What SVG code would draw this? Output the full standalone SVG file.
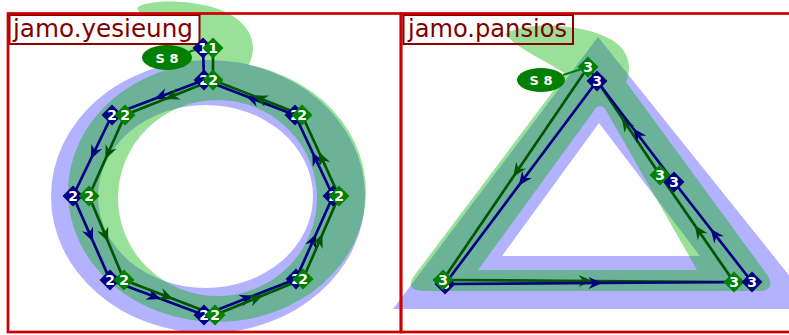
<svg xmlns="http://www.w3.org/2000/svg" xmlns:xlink="http://www.w3.org/1999/xlink" width="789" height="335" viewBox="0 0 789 335">
<style>
.bl{fill:#0000ff;fill-opacity:0.3}
.gr{fill:#00b200;fill-opacity:0.4}
.frame{fill:none;stroke:#cc0000;stroke-width:2.7}
.lbox{stroke:#8b0000;stroke-width:2}
.ltxt{font-family:"DejaVu Sans","Liberation Sans",sans-serif;font-size:24px;fill:#800000}
.cb{fill:none;stroke:#000080;stroke-width:2.7}
.cg{fill:none;stroke:#005500;stroke-width:2.7}
.nb{fill:#000080}
.ng{fill:#008000}
.nt{font-family:"DejaVu Sans","Liberation Sans",sans-serif;font-size:14px;font-weight:bold;fill:#ffffff;text-anchor:middle}
.st{font-family:"DejaVu Sans","Liberation Sans",sans-serif;font-size:13px;font-weight:bold;fill:#ffffff;text-anchor:middle}
.sl{stroke:#008000;stroke-width:2}
</style>
<defs>
<path id="dm" d="M0,-10.5 L10.5,0 L0,10.5 L-10.5,0 Z"/>
<marker id="ab" markerUnits="userSpaceOnUse" markerWidth="18" markerHeight="14" viewBox="-13 -7 18 14" refX="0" refY="0" orient="auto"><path d="M4,0 L-10,-6 L-5.5,0 L-10,6 Z" fill="#000080"/></marker>
<marker id="ag" markerUnits="userSpaceOnUse" markerWidth="18" markerHeight="14" viewBox="-13 -7 18 14" refX="0" refY="0" orient="auto"><path d="M4,0 L-10,-6 L-5.5,0 L-10,6 Z" fill="#005500"/></marker>
</defs>

<!-- left panel shapes -->
<path class="bl" fill-rule="evenodd" d="M51,196.5 A157,136.5 0 1 1 365,196.5 A157,136.5 0 1 1 51,196.5 Z M98,196.5 A107.5,91.5 0 1 1 313,196.5 A107.5,91.5 0 1 1 98,196.5 Z"/>
<path class="gr" fill-rule="nonzero" d="M68,192 A149,130 0 1 1 366,192 A149,130 0 1 1 68,192 Z M118,198 A99.5,98 0 1 0 317,198 A99.5,98 0 1 0 118,198 Z M137,8 C145,0 185,-1 215,8 C240,16 254,32 253,50 C252,62 246,70 240,76 L195,76 C185,60 150,30 137,8 Z"/>
<g id="label-yesieung">
<rect class="lbox" x="9.5" y="15" width="190" height="29" fill="#ffffff"/>
<text class="ltxt" x="13" y="37" textLength="180" lengthAdjust="spacingAndGlyphs">jamo.yesieung</text>
</g>

<!-- right panel shapes -->
<path class="bl" fill-rule="evenodd" d="M598,37 L816,309 L393,309 Z M599,123 L502,256 L700,256 Z"/>
<path class="gr" fill-rule="nonzero" d="M505,34 C528,20 585,24 612,40 C630,51 632,68 626,82 L768,276 Q776,291 758,291 L424,291 Q404,290 414,276 L566,74 C545,60 518,50 505,34 Z M600,106 Q596,106 593,112 L478,270 L697,270 L607,112 Q604,106 600,106 Z"/>
<g id="label-pansios">
<rect class="lbox" x="403.5" y="15" width="169.5" height="29" fill="none"/>
<text class="ltxt" x="408" y="37" textLength="159" lengthAdjust="spacingAndGlyphs">jamo.pansios</text>
</g>

<!-- frames -->
<rect class="frame" x="8" y="13.5" width="393" height="318.5"/>
<rect class="frame" x="401" y="13.5" width="400" height="318.5"/>

<!-- connectors -->
<g id="connectors">
<line class="cb" x1="203" y1="48" x2="204" y2="80"/>
<line class="cg" x1="213" y1="48" x2="213" y2="80"/>
<line class="sl" x1="189" y1="52" x2="196" y2="49.5"/>
<path class="cb" marker-mid="url(#ab)" d="M204,80 L158,97.5 L112,115"/>
<path class="cb" marker-mid="url(#ab)" d="M112,115 L92.5,155.5 L73,196"/>
<path class="cb" marker-mid="url(#ab)" d="M73,196 L91.5,238 L110,280"/>
<path class="cb" marker-mid="url(#ab)" d="M110,280 L157,297.5 L204,315"/>
<path class="cb" marker-mid="url(#ab)" d="M204,315 L250,297 L296,279"/>
<path class="cb" marker-mid="url(#ab)" d="M296,279 L314.5,237.5 L333,196"/>
<path class="cb" marker-mid="url(#ab)" d="M333,196 L314,155.5 L295,115"/>
<path class="cb" marker-mid="url(#ab)" d="M295,115 L249.5,97.5 L204,80"/>
<path class="cg" marker-mid="url(#ag)" d="M213,80 L169,97.5 L125,115"/>
<path class="cg" marker-mid="url(#ag)" d="M125,115 L107,155.5 L89,196"/>
<path class="cg" marker-mid="url(#ag)" d="M89,196 L106.5,238 L124,280"/>
<path class="cg" marker-mid="url(#ag)" d="M124,280 L169.5,297.5 L215,315"/>
<path class="cg" marker-mid="url(#ag)" d="M215,315 L259,297 L303,279"/>
<path class="cg" marker-mid="url(#ag)" d="M303,279 L321,237.5 L339,196"/>
<path class="cg" marker-mid="url(#ag)" d="M339,196 L320.5,155.5 L302,115"/>
<path class="cg" marker-mid="url(#ag)" d="M302,115 L257.5,97.5 L213,80"/>

<line class="sl" x1="563" y1="75" x2="580" y2="69.5"/>
<path class="cg" marker-mid="url(#ag)" d="M588,67 L515.5,173.5 L443,280"/>
<path class="cg" marker-mid="url(#ag)" d="M443,280 L588.5,281 L734,282"/>
<path class="cg" marker-mid="url(#ag)" d="M734,282 L697,228.5 L660,175"/>
<path class="cg" marker-mid="url(#ag)" d="M660,175 L624,121 L588,67"/>
<path class="cb" marker-mid="url(#ab)" d="M597,81 L521,182.5 L445,284"/>
<path class="cb" marker-mid="url(#ab)" d="M445,284 L598.5,283 L752,282"/>
<path class="cb" marker-mid="url(#ab)" d="M752,282 L713,232 L674,182"/>
<path class="cb" marker-mid="url(#ab)" d="M674,182 L635.5,131.5 L597,81"/>
</g>

<!-- left nodes -->
<g id="yes-b-1"><use xlink:href="#dm" class="nb" x="203" y="48"/><text class="nt" x="203" y="53">1</text></g>
<g id="yes-g-1"><use xlink:href="#dm" class="ng" x="213" y="48"/><text class="nt" x="213" y="53">1</text></g>
<g id="yes-b-2top"><use xlink:href="#dm" class="nb" x="204" y="80"/><text class="nt" x="204" y="85">2</text></g>
<g id="yes-g-2top"><use xlink:href="#dm" class="ng" x="213" y="80"/><text class="nt" x="213" y="85">2</text></g>
<g id="yes-b-ul"><use xlink:href="#dm" class="nb" x="112" y="115"/><text class="nt" x="112" y="120">2</text></g>
<g id="yes-g-ul"><use xlink:href="#dm" class="ng" x="125" y="115"/><text class="nt" x="125" y="120">2</text></g>
<g id="yes-b-ur"><use xlink:href="#dm" class="nb" x="295" y="115"/><text class="nt" x="295" y="120">2</text></g>
<g id="yes-g-ur"><use xlink:href="#dm" class="ng" x="302" y="115"/><text class="nt" x="302" y="120">2</text></g>
<g id="yes-b-l"><use xlink:href="#dm" class="nb" x="73" y="196"/><text class="nt" x="73" y="201">2</text></g>
<g id="yes-g-l"><use xlink:href="#dm" class="ng" x="89" y="196"/><text class="nt" x="89" y="201">2</text></g>
<g id="yes-b-r"><use xlink:href="#dm" class="nb" x="333" y="196"/><text class="nt" x="333" y="201">2</text></g>
<g id="yes-g-r"><use xlink:href="#dm" class="ng" x="339" y="196"/><text class="nt" x="339" y="201">2</text></g>
<g id="yes-b-ll"><use xlink:href="#dm" class="nb" x="110" y="280"/><text class="nt" x="110" y="285">2</text></g>
<g id="yes-g-ll"><use xlink:href="#dm" class="ng" x="124" y="280"/><text class="nt" x="124" y="285">2</text></g>
<g id="yes-b-lr"><use xlink:href="#dm" class="nb" x="296" y="279"/><text class="nt" x="296" y="284">2</text></g>
<g id="yes-g-lr"><use xlink:href="#dm" class="ng" x="303" y="279"/><text class="nt" x="303" y="284">2</text></g>
<g id="yes-b-b"><use xlink:href="#dm" class="nb" x="204" y="315"/><text class="nt" x="204" y="320">2</text></g>
<g id="yes-g-b"><use xlink:href="#dm" class="ng" x="215" y="315"/><text class="nt" x="215" y="320">2</text></g>
<g id="yes-s8"><ellipse class="ng" cx="167" cy="57.5" rx="25" ry="12.5"/><text class="st" x="167" y="62.5">S 8</text></g>

<!-- right nodes -->
<g id="pan-b-bl"><use xlink:href="#dm" class="nb" x="445" y="284"/><text class="nt" x="445" y="289">3</text></g>
<g id="pan-g-bl"><use xlink:href="#dm" class="ng" x="443" y="280"/><text class="nt" x="443" y="285">3</text></g>
<g id="pan-g-t"><use xlink:href="#dm" class="ng" x="588" y="67"/><text class="nt" x="588" y="72">3</text></g>
<g id="pan-b-t"><use xlink:href="#dm" class="nb" x="597" y="81"/><text class="nt" x="597" y="86">3</text></g>
<g id="pan-g-rm"><use xlink:href="#dm" class="ng" x="660" y="175"/><text class="nt" x="660" y="180">3</text></g>
<g id="pan-b-rm"><use xlink:href="#dm" class="nb" x="674" y="182"/><text class="nt" x="674" y="187">3</text></g>
<g id="pan-g-br"><use xlink:href="#dm" class="ng" x="734" y="282"/><text class="nt" x="734" y="287">3</text></g>
<g id="pan-b-br"><use xlink:href="#dm" class="nb" x="752" y="282"/><text class="nt" x="752" y="287">3</text></g>
<g id="pan-s8"><ellipse class="ng" cx="541" cy="80" rx="24" ry="12"/><text class="st" x="541" y="85">S 8</text></g>
</svg>
